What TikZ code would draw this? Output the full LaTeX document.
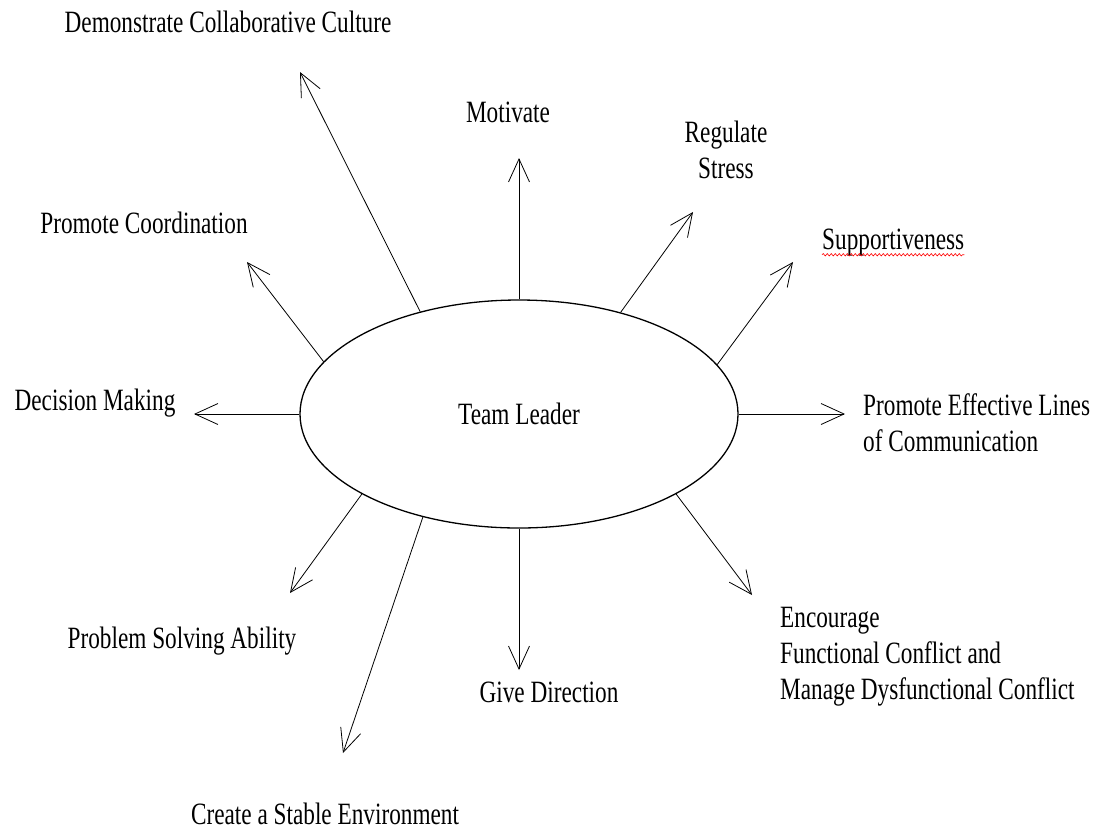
\documentclass[tikz,border=0pt]{standalone}
\usepackage{fontspec}
\setmainfont{Liberation Serif}[FakeStretch=0.75]
\usepackage{tikz}
\usetikzlibrary{shapes.geometric,arrows.meta,decorations.pathmorphing}

\begin{document}
\begin{tikzpicture}
	[   x=1pt,y=-1pt,
		lnode/.style={inner sep=0pt,align=#1,font=\fontsize{31}{36}\selectfont},
		lnode/.default=center,
	]
	\tikzset{normal arrow/.style={draw,line width=0.8pt,-{Straight Barb[length=23pt,width=21pt]}}}
	\useasboundingbox (0,0) rectangle (1105,836);
	
	\node[draw,ellipse,line width=1.3pt,minimum width=438pt,minimum height=228pt,inner sep=0pt,lnode] (leader) at (519,414) {Team Leader};
	
	\node[lnode] (demo) at (228,22) {Demonstrate Collaborative Culture};
	\node[lnode] (motiv) at (508,112) {Motivate};
	\node[lnode] (regul) at (726,150) {Regulate\\Stress};
	\node[lnode,anchor=west] (suppo) at (822,243) {Supportiveness};
	\node[lnode=left,anchor=west] (lines) at (863,423) {Promote Effective Lines\\of Communication};
	\node[lnode=left,anchor=west] (confl) at (780,657) {Encourage\\Functional Conflict and\\Manage Dysfunctional Conflict};
	\node[lnode] (direc) at (549,692) {Give Direction};
	\node[lnode] (stabl) at (325,814) {Create a Stable Environment};
	\node[lnode] (probl) at (182,641) {Problem Solving Ability};
	\node[lnode] (decis) at (95,403) {Decision Making};
	\node[lnode] (coord) at (144,223) {Promote Coordination};
	
	% spelling mark
	\draw[red,line width=0.6pt,decorate,decoration={snake,amplitude=1.2pt,segment length=4pt}]
		([yshift=2pt]suppo.south west) -- ([yshift=2pt]suppo.south east);
	
	% arrow tips
	\coordinate (t-demo) at (300,72);
	\coordinate (t-motiv) at (519,158);
	\coordinate (t-regul) at (693,212);
	\coordinate (t-suppo) at (793,262);
	\coordinate (t-lines) at (845,414);
	\coordinate (t-confl) at (752,595);
	\coordinate (t-direc) at (519,670);
	\coordinate (t-stabl) at (343,753);
	\coordinate (t-probl) at (290,593);
	\coordinate (t-decis) at (194,414);
	\coordinate (t-coord) at (247,262);
	
	\foreach \a/\n in {134/demo,90/motiv,45/regul,14/suppo,0/lines,333/confl,
		270/direc,227/stabl,207/probl,180/decis,165/coord}
	{
		\path[normal arrow] (leader.\a) -- (t-\n);
	}
\end{tikzpicture}
\end{document}
